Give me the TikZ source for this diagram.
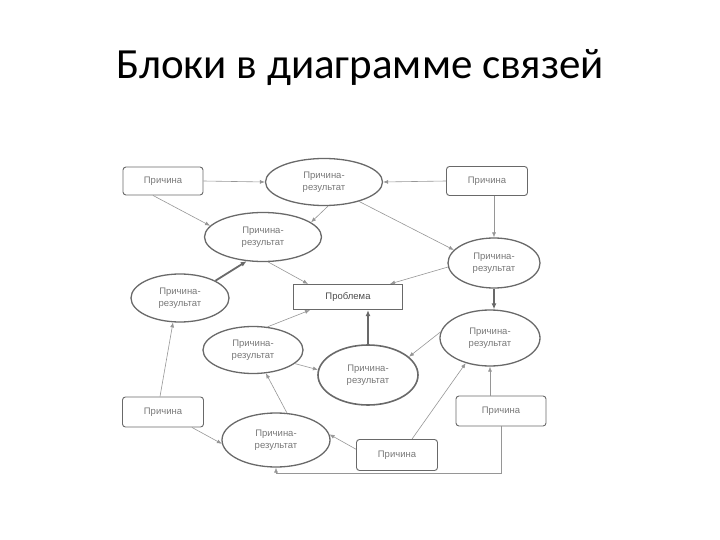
\documentclass[tikz,border=0pt]{standalone}
\usepackage{fontspec}
\setmainfont{Liberation Sans}
\newfontfamily\titlefont{Carlito}
\definecolor{LineGray}{RGB}{150,150,150}
\definecolor{EdgeGray}{RGB}{105,105,105}
\definecolor{TextGray}{RGB}{120,120,120}
\usetikzlibrary{arrows.meta, shapes.geometric, positioning}

\begin{document}
\begin{tikzpicture}[
  x=1pt, y=-1pt,
  cause/.style={draw=EdgeGray, rounded corners=3pt, line width=0.9pt,
    text=TextGray, font=\fontsize{9.5}{12}\selectfont, inner sep=2pt},
  effect/.style={ellipse, draw=EdgeGray, line width=1.3pt, align=center,
    text=TextGray, font=\fontsize{9.5}{12.5}\selectfont, inner sep=0pt},
  link/.style={draw=LineGray, line width=0.6pt, -{Latex[length=5pt,width=4pt]}},
  strong/.style={draw=EdgeGray, line width=1.8pt, -{Latex[length=6pt,width=5pt]}}
]
\useasboundingbox (0,0) rectangle (720,540);

% title
\node[anchor=base, inner sep=0pt] (title) at (360,79) {\titlefont\fontsize{43}{48}\selectfont Блоки в диаграмме связей};

% causes
\node[cause, minimum width=80pt, minimum height=28pt] (c1) at (163,181) {Причина};
\node[cause, minimum width=81pt, minimum height=29pt] (c2) at (487,181) {Причина};
\node[cause, minimum width=81pt, minimum height=30pt] (c3) at (163,412) {Причина};
\node[cause, minimum width=90pt, minimum height=30pt] (c4) at (501,411) {Причина};
\node[cause, minimum width=81pt, minimum height=31pt] (c5) at (397,455) {Причина};

% problem
\node[draw=EdgeGray, line width=1.2pt, minimum width=109pt, minimum height=25pt,
  font=\fontsize{9.5}{12}\selectfont, text=black!70] (prob) at (348,297) {Проблема};

% cause-effect blocks
\node[effect, minimum width=117pt, minimum height=47pt] (e1) at (324,182) {Причина-\\результат};
\node[effect, minimum width=117pt, minimum height=49pt] (e2) at (263,237) {Причина-\\результат};
\node[effect, minimum width=92pt, minimum height=50pt] (e3) at (494,263) {Причина-\\результат};
\node[effect, minimum width=98pt, minimum height=48pt] (e4) at (180,298) {Причина-\\результат};
\node[effect, minimum width=100pt, minimum height=47pt] (e5) at (253,350) {Причина-\\результат};
\node[effect, minimum width=100pt, minimum height=60pt, line width=1.6pt] (e6) at (368,375) {Причина-\\результат};
\node[effect, minimum width=100pt, minimum height=56pt] (e7) at (490,338) {Причина-\\результат};
\node[effect, minimum width=108pt, minimum height=54pt] (e8) at (276,440) {Причина-\\результат};

% connectors
\draw[link] (c1.east) -- (e1.west);
\draw[link] (c2.west) -- (e1.east);
\draw[link] ([xshift=-10pt]c1.south) -- (e2.168);
\draw[link] ([xshift=4pt]e1.south) -- (e2.17);
\draw[link] (e1.-29) -- (e3.162);
\draw[link] (e2.-78) -- ([xshift=-40pt]prob.north);
\draw[link] (e3.185) -- ([xshift=42pt]prob.north);
\draw[link] (e3.north |- c2.south) -- (e3.north);
\draw[strong] (e3.south) -- (e3.south |- e7.north);
\draw[strong] (e4.26) -- (e2.-124);
\draw[link] (e5.58) -- ([xshift=-38pt]prob.south);
\draw[strong] (e6.north) -- (e6.north |- prob.south);
\draw[link] (e7.173) -- (e6.24);
\draw[link] (e5.-18) -- (e6.174);
\draw[link] ([xshift=-3pt]c3.north) -- (e4.-106);
\draw[link] (e8.68) -- (e5.-61);
\draw[link] ([xshift=29pt]c3.south) -- (e8.184);
\draw[link] (c5.172) -- (e8.6);
\draw[link] ([xshift=15pt]c5.north) -- (e7.-134);
\draw[link] (e7.south |- c4.north) -- (e7.south);
\draw[link] (c4.south) -- ++(0,47) -| (e8.south);
\end{tikzpicture}
\end{document}
